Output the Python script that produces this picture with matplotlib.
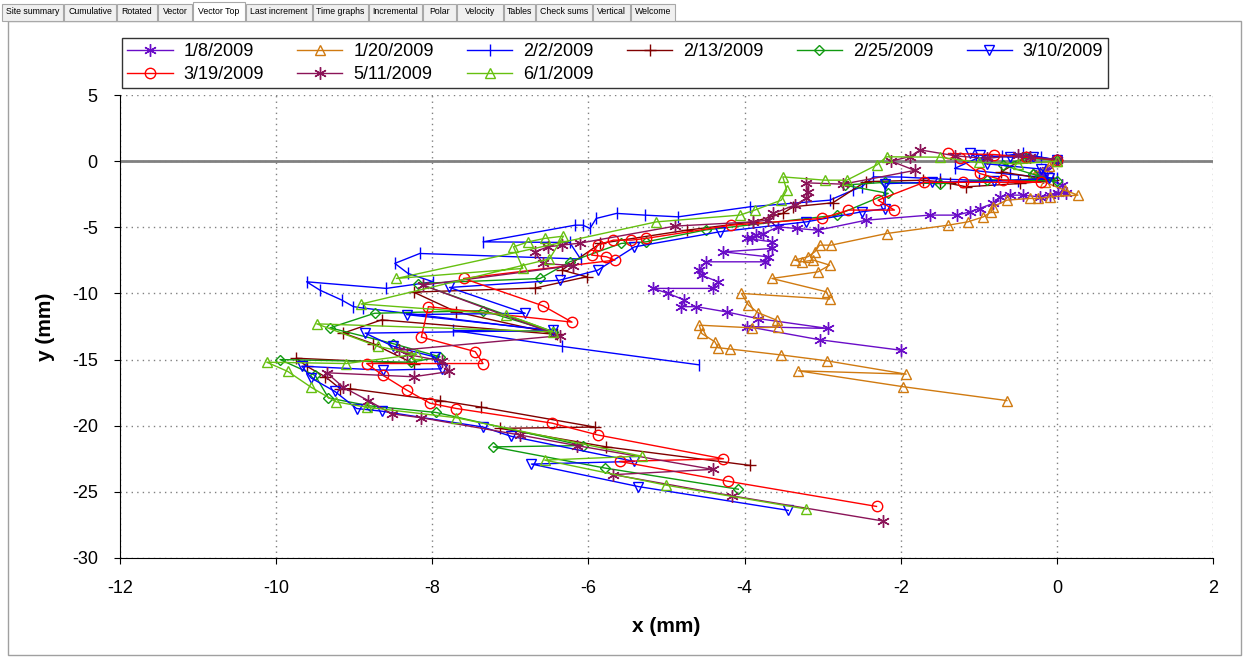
import matplotlib
matplotlib.use('Agg')
import matplotlib.pyplot as plt
from matplotlib.patches import Rectangle

plt.rcParams['font.family'] = ['Liberation Sans', 'DejaVu Sans']
plt.rcParams['axes.unicode_minus'] = False

# ---- data (mm), top of hole first ----
x_0108 = [0.00, -0.13, -0.22, -0.18, 0.06, 0.12, 0.02, -0.09, -0.22, -0.43, -0.60, -0.73, -0.82, -0.99, -1.11,
          -1.28, -1.63, -2.44, -3.06, -3.33, -3.57, -3.76, -3.85, -3.91, -3.97, -3.65, -3.65, -4.27, -3.70, -3.74,
          -4.49, -4.59, -4.55, -4.34, -4.40, -5.17, -4.98, -4.77, -4.81, -4.62, -4.23, -3.83, -2.93, -3.97, -3.04, -1.99]
y_0108 = [0.05, -0.68, -0.93, -1.19, -1.81, -2.44, -2.44, -2.57, -2.70, -2.57, -2.57, -2.70, -3.20, -3.58, -3.83,
          -4.08, -4.08, -4.46, -5.22, -5.09, -4.97, -5.47, -5.59, -5.84, -5.84, -6.10, -6.60, -6.86, -7.23, -7.61,
          -7.61, -8.24, -8.62, -9.12, -9.62, -9.62, -10.00, -10.50, -11.00, -11.00, -11.40, -11.90, -12.65, -12.50,
          -13.50, -14.30]

x_0120 = [0.00, -0.10, -0.30, -0.15, 0.10, 0.27, -0.09, -0.24, -0.35, -0.64, -0.82, -0.84, -0.94, -1.14, -1.39,
          -2.18, -2.89, -3.04, -3.10, -3.19, -3.36, -3.27, -3.12, -2.91, -3.06, -3.65, -2.95, -2.91, -4.04, -3.95,
          -3.83, -3.59, -3.57, -3.91, -4.58, -4.55, -4.38, -4.34, -4.19, -3.53, -2.95, -1.93, -3.31, -1.97, -0.64]
y_0120 = [0.00, -0.35, -0.93, -1.60, -2.20, -2.57, -2.70, -2.82, -2.82, -2.95, -3.45, -3.83, -4.21, -4.59, -4.84,
          -5.47, -6.35, -6.35, -6.85, -7.23, -7.48, -7.61, -7.48, -7.86, -8.37, -8.87, -9.88, -10.43, -10.00, -10.88,
          -11.45, -12.02, -12.55, -12.60, -12.40, -13.02, -13.66, -14.10, -14.20, -14.65, -15.09, -16.10, -15.85,
          -17.05, -18.10]

x_0202 = [0.00, -0.20, -0.43, -0.70, -1.03, -1.31, -0.60, 0.00, -0.50, -1.00, -1.50, -2.00, -2.35, -2.50, -2.61,
          -2.91, -3.93, -4.85, -5.28, -5.64, -5.90, -5.98, -6.07, -6.17, -7.35, -6.24, -6.10, -8.16, -8.48, -8.31,
          -7.99, -8.59, -9.61, -9.44, -9.16, -9.01, -8.89, -6.45, -7.73, -6.34, -4.58]
y_0202 = [0.10, 0.30, 0.58, 0.40, 0.20, -0.55, -1.00, -1.30, -1.50, -1.45, -1.35, -1.20, -1.19, -1.94, -2.19,
          -2.95, -3.45, -4.21, -4.08, -3.95, -4.33, -5.09, -4.84, -4.84, -6.10, -6.15, -7.40, -6.98, -7.73, -8.49,
          -9.12, -9.62, -9.12, -9.75, -10.50, -11.00, -11.10, -12.85, -12.80, -14.00, -15.40]

x_0213 = [0.00, -0.39, -0.71, -0.05, -0.47, -1.16, -1.37, -1.50, -1.71, -2.45, -2.87, -3.38, -3.51, -3.89, -4.74,
          -5.85, -6.34, -6.02, -6.69, -8.24, -7.69, -6.40, -8.65, -9.14, -8.76, -8.24, -9.74, -9.61, -9.37, -9.18,
          -9.06, -7.90, -7.37, -5.92, -7.13, -5.77, -3.93]
y_0213 = [0.05, 0.33, -0.81, -1.45, -1.69, -1.94, -1.69, -1.56, -1.44, -1.55, -3.15, -3.45, -3.95, -4.59, -5.22,
          -6.22, -8.24, -8.74, -9.60, -9.90, -11.40, -13.10, -12.00, -13.00, -13.80, -15.30, -14.90, -15.50, -16.30,
          -17.20, -17.20, -18.10, -18.60, -20.10, -20.20, -21.60, -23.00]

x_0225 = [0.00, -0.40, -0.69, -0.30, 0.00, -0.90, -1.50, -2.20, -2.72, -2.16, -2.82, -4.50, -5.26, -5.58, -6.24,
          -6.62, -8.18, -6.45, -7.35, -8.74, -9.31, -8.50, -7.90, -8.27, -9.95, -9.50, -9.33, -8.80, -7.95, -6.07,
          -7.22, -5.79, -4.08]
y_0225 = [0.10, 0.20, -0.30, -1.00, -1.50, -1.40, -1.70, -1.60, -1.81, -2.44, -4.08, -5.20, -6.10, -6.22, -7.61,
          -8.87, -9.25, -12.90, -11.30, -11.50, -12.60, -13.80, -14.80, -15.20, -15.00, -16.20, -17.90, -18.50,
          -19.00, -21.50, -21.60, -23.20, -24.80]

x_0310 = [0.00, -0.30, -0.60, -0.99, -1.11, -0.90, -0.20, -0.10, -0.80, -1.60, -2.20, -2.20, -2.50, -3.21, -4.32,
          -5.41, -5.88, -6.37, -7.78, -6.81, -8.33, -6.45, -8.86, -8.50, -7.97, -7.88, -8.63, -9.67, -9.55, -9.25,
          -8.97, -8.65, -7.35, -6.99, -5.41, -6.73, -5.36, -3.44]
y_0310 = [0.10, 0.35, 0.30, 0.45, 0.58, -0.20, -0.60, -1.30, -1.50, -1.60, -1.70, -3.60, -3.83, -4.59, -5.34,
          -6.48, -8.24, -9.00, -9.55, -11.50, -11.60, -12.80, -13.00, -14.00, -14.80, -15.70, -15.80, -15.50,
          -16.40, -17.40, -18.70, -18.90, -20.10, -20.80, -22.70, -22.90, -24.60, -26.40]

x_0319 = [0.00, -0.40, -0.80, -1.39, -1.24, -0.99, -0.69, -0.20, -1.20, -1.70, -2.29, -2.08, -2.67, -3.01, -4.17,
          -5.26, -5.45, -5.68, -5.88, -5.96, -5.77, -5.66, -7.60, -6.58, -6.21, -8.05, -8.14, -7.45, -7.35, -8.84,
          -8.63, -8.33, -8.03, -7.69, -6.47, -5.88, -4.27, -5.60, -4.21, -2.31]
y_0319 = [0.10, 0.30, 0.50, 0.58, 0.20, -0.93, -1.44, -1.60, -1.60, -1.60, -2.95, -3.70, -3.70, -4.33, -4.84,
          -5.84, -5.97, -5.97, -6.35, -7.10, -7.23, -7.48, -8.87, -10.94, -12.17, -11.00, -13.30, -14.40, -15.30,
          -15.30, -16.20, -17.30, -18.30, -18.70, -19.80, -20.70, -22.50, -22.70, -24.20, -26.10]

x_0511 = [0.00, -0.35, -0.50, -0.90, -1.30, -1.75, -1.88, -2.12, -1.82, -2.74, -3.21, -3.19, -3.21, -3.36, -3.63,
          -3.70, -3.89, -4.89, -6.11, -6.34, -6.52, -6.69, -6.58, -6.20, -8.12, -6.37, -8.42, -8.33, -7.88, -7.78,
          -8.24, -9.35, -9.14, -8.82, -8.52, -8.14, -6.88, -6.15, -4.41, -5.68, -4.16, -2.23]
y_0511 = [0.10, 0.35, 0.45, 0.20, 0.40, 0.85, 0.35, 0.00, -0.70, -1.74, -1.64, -2.32, -2.82, -3.33, -3.95,
          -4.46, -4.59, -4.91, -6.20, -6.35, -6.48, -6.86, -7.73, -7.90, -9.37, -13.20, -14.30, -14.60, -15.10,
          -15.90, -16.30, -16.00, -17.10, -18.10, -19.10, -19.40, -20.70, -21.50, -23.30, -23.70, -25.30, -27.20]

x_0601 = [0.00, -0.50, -1.00, -1.50, -2.18, -2.31, -2.69, -2.97, -3.51, -3.46, -3.53, -3.87, -4.06, -5.13, -8.46,
          -6.84, -6.96, -6.77, -6.56, -6.32, -6.50, -8.91, -7.05, -6.45, -9.48, -8.70, -8.20, -9.10, -10.12, -9.85,
          -9.55, -9.23, -8.84, -7.69, -5.32, -6.56, -5.00, -3.21]
y_0601 = [0.00, -0.20, -0.10, 0.30, 0.33, -0.30, -1.44, -1.44, -1.19, -2.19, -2.95, -3.70, -4.08, -4.59, -8.87,
          -8.11, -6.48, -6.10, -5.84, -5.67, -7.40, -10.80, -11.60, -12.90, -12.30, -14.00, -14.60, -15.30, -15.20,
          -15.90, -17.10, -18.20, -18.60, -19.40, -22.30, -22.60, -24.50, -26.30]

dates = ['1/8/2009', '1/20/2009', '2/2/2009', '2/13/2009', '2/25/2009',
         '3/10/2009', '3/19/2009', '5/11/2009', '6/1/2009']
xs = [x_0108, x_0120, x_0202, x_0213, x_0225, x_0310, x_0319, x_0511, x_0601]
ys = [y_0108, y_0120, y_0202, y_0213, y_0225, y_0310, y_0319, y_0511, y_0601]

colors = ['#6A0DC8', '#D07A10', '#0000FF', '#800000', '#109A10',
          '#0000FF', '#FF0000', '#8B1458', '#66C010']
markers = [(6, 2, 0), '^', '|', '+', 'D', 'v', 'o', (6, 2, 0), '^']
msizes = [9, 7.5, 9, 9, 5.5, 7.5, 7.5, 9, 7.5]

W, H = 1249, 658
fig = plt.figure(figsize=(W / 100, H / 100), dpi=100)

# window frame and tab strip
fig.add_artist(Rectangle((8 / W, 3 / H), 1233 / W, 634 / H, transform=fig.transFigure,
                         facecolor='none', edgecolor='#A0A0A0', lw=1, zorder=-5))
tabs = [('Site summary', 2, 63), ('Cumulative', 64, 116), ('Rotated', 117, 157), ('Vector', 158, 192),
        ('Vector Top', 193, 245), ('Last increment', 246, 312), ('Time graphs', 313, 368),
        ('Incremental', 369, 422), ('Polar', 423, 456), ('Velocity', 457, 503), ('Tables', 504, 535),
        ('Check sums', 536, 592), ('Vertical', 593, 630), ('Welcome', 631, 675)]
for name, a, b in tabs:
    sel = name == 'Vector Top'
    top = 2 if sel else 4
    fig.add_artist(Rectangle((a / W, 1 - 21 / H), (b - a) / W, (21 - top) / H, transform=fig.transFigure,
                             facecolor='white' if sel else '#F0F0F0', edgecolor='#A8A8A8', lw=0.8))
    fig.text((a + b) / 2 / W, 1 - (12 if not sel else 11) / H, name, ha='center', va='center',
             fontsize=6.3, color='black')

ax = fig.add_axes([120 / W, 1 - 558 / H, (1213 - 120) / W, (558 - 95) / H])
ax.set_facecolor('none')
ax.axhline(0, color='#808080', lw=2, zorder=1.5)

handles = []
for lab, x, y, c, m, s in zip(dates, xs, ys, colors, markers, msizes):
    ln, = ax.plot(x, y, color=c, lw=1, marker=m, ms=s, mfc='none', mec=c, mew=1, label=lab, zorder=2)
    handles.append(ln)

ax.set_xlim(-12, 2)
ax.set_ylim(-30, 5)
ax.set_xticks(range(-12, 3, 2))
ax.set_yticks(range(-30, 6, 5))
ax.grid(True, linestyle=(0, (1, 3)), color='#808080', lw=1)
ax.set_axisbelow(True)
for sp in ['top', 'right']:
    ax.spines[sp].set_visible(False)
ax.tick_params(labelsize=13, length=4, direction='out', pad=12)
ax.set_xlabel('x (mm)', fontsize=15, fontweight='bold', labelpad=14)
ax.set_ylabel('y (mm)', fontsize=15, fontweight='bold', labelpad=12)

order = [0, 6, 1, 7, 2, 8, 3, 4, 5]
leg = fig.legend([handles[i] for i in order], [dates[i] for i in order], loc='upper left',
                 bbox_to_anchor=(122 / W, 1 - 38 / H), ncol=6, fontsize=13, frameon=True,
                 fancybox=False, edgecolor='black', handlelength=2.5, handletextpad=0.6,
                 columnspacing=1.85, borderpad=0.3, labelspacing=0.3, borderaxespad=0, numpoints=1)
leg.get_frame().set_linewidth(1)

fig.savefig('out.png', dpi=100)
